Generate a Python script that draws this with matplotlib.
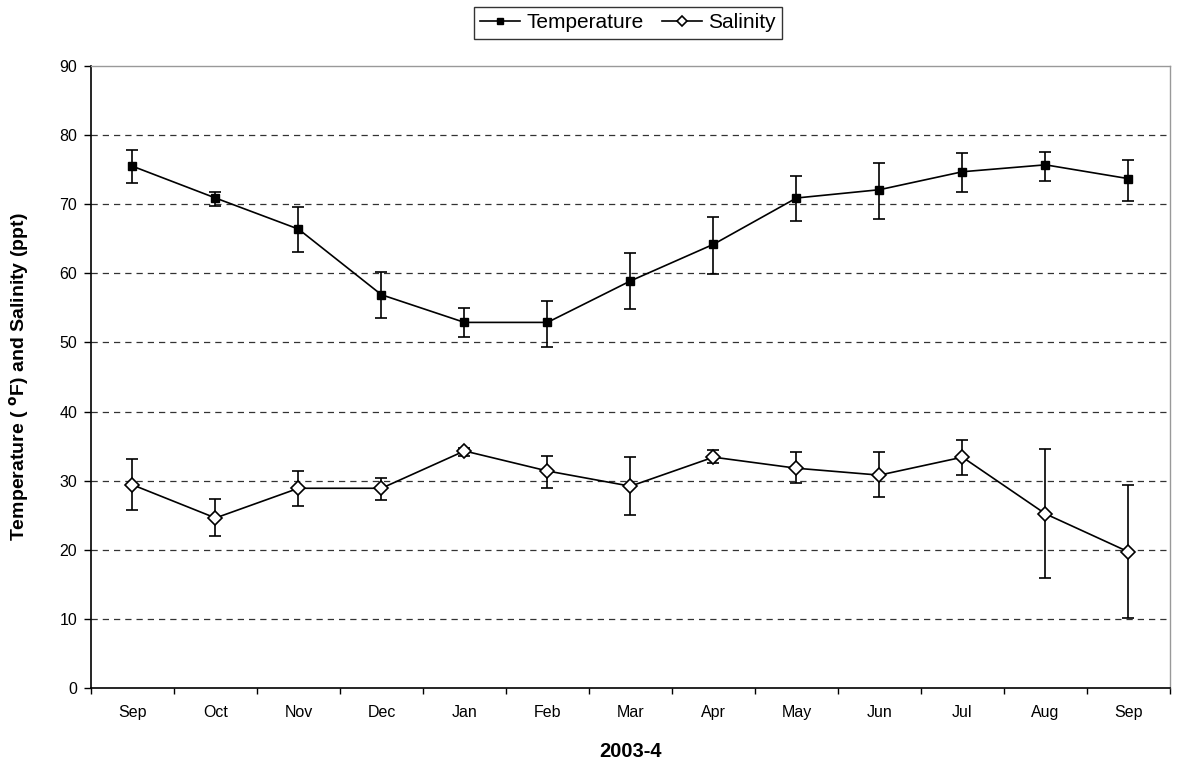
import matplotlib
matplotlib.use("Agg")
import matplotlib.pyplot as plt
import numpy as np

plt.rcParams['font.family'] = ['Liberation Sans', 'DejaVu Sans']

months = ["Sep", "Oct", "Nov", "Dec", "Jan", "Feb", "Mar",
          "Apr", "May", "Jun", "Jul", "Aug", "Sep"]

temp_mean = [75.5, 70.9, 66.4, 56.9, 52.9, 52.9, 58.9, 64.2, 70.9, 72.1, 74.7, 75.7, 73.7]
temp_hi   = [77.8, 71.7, 69.6, 60.2, 55.0, 56.0, 62.9, 68.2, 74.1, 76.0, 77.4, 77.6, 76.4]
temp_lo   = [73.0, 69.8, 63.1, 53.5, 50.8, 49.4, 54.8, 59.9, 67.5, 67.9, 71.8, 73.4, 70.5]

sal_mean = [29.4, 24.6, 28.9, 28.9, 34.3, 31.4, 29.2, 33.4, 31.8, 30.8, 33.4, 25.2, 19.7]
sal_hi   = [33.2, 27.4, 31.4, 30.4, 34.7, 33.6, 33.4, 34.4, 34.2, 34.2, 35.9, 34.6, 29.4]
sal_lo   = [25.8, 22.0, 26.4, 27.2, 33.5, 29.0, 25.0, 32.5, 29.6, 27.6, 30.8, 15.9, 10.2]

x = np.arange(len(months))

fig = plt.figure(figsize=(11.77, 7.63), dpi=100)
ax = fig.add_axes([0.0773, 0.0983, 0.9167, 0.8152])

# horizontal dashed gridlines
for yv in range(10, 90, 10):
    ax.axhline(yv, color="#333333", lw=0.9, dashes=(5, 4), zorder=1)

def yerr(mean, hi, lo):
    m = np.array(mean)
    return np.vstack([m - np.array(lo), np.array(hi) - m])

ax.errorbar(x, temp_mean, yerr=yerr(temp_mean, temp_hi, temp_lo),
            fmt="none", ecolor="black", elinewidth=1.2, capsize=4, capthick=1.2, zorder=2)
ax.errorbar(x, sal_mean, yerr=yerr(sal_mean, sal_hi, sal_lo),
            fmt="none", ecolor="black", elinewidth=1.2, capsize=4, capthick=1.2, zorder=2)

ax.plot(x, temp_mean, color="black", lw=1.2, marker="s", ms=5.5,
        mfc="black", mec="black", label="Temperature", zorder=3)
ax.plot(x, sal_mean, color="black", lw=1.2, marker="D", ms=7,
        mfc="white", mec="black", mew=1.2, label="Salinity", zorder=3)

ax.set_xlim(-0.5, len(months) - 0.5)
ax.set_ylim(0, 90)
ax.set_yticks(range(0, 91, 10))
ax.set_xticks(x)
ax.set_xticklabels(months)
ax.set_xticks(np.arange(-0.5, len(months), 1.0), minor=True)
ax.tick_params(axis="x", which="major", length=0, labelsize=11.5, pad=12)
ax.tick_params(axis="x", which="minor", length=4, width=1, direction="out")
ax.tick_params(axis="y", length=5, width=1, direction="out", labelsize=11.5, pad=5)

for side in ("left", "bottom"):
    ax.spines[side].set_color("black")
    ax.spines[side].set_linewidth(1.2)
for side in ("top", "right"):
    ax.spines[side].set_color("#999999")
    ax.spines[side].set_linewidth(1.0)

ax.set_ylabel("Temperature ( $^{\\mathbf{o}}$F) and Salinity (ppt)",
              fontsize=14, fontweight="bold", labelpad=20)
ax.set_xlabel("2003-4", fontsize=14.5, fontweight="bold", labelpad=16)

leg = fig.legend(loc="center", bbox_to_anchor=(628 / 1177, 1 - 23 / 763),
                 ncol=2, frameon=True, fancybox=False, edgecolor="black",
                 fontsize=15, handlelength=1.9, handletextpad=0.3,
                 columnspacing=0.9, borderpad=0.3, markerscale=0.8)
leg.get_frame().set_linewidth(1.0)

fig.savefig("out.png", dpi=100)
